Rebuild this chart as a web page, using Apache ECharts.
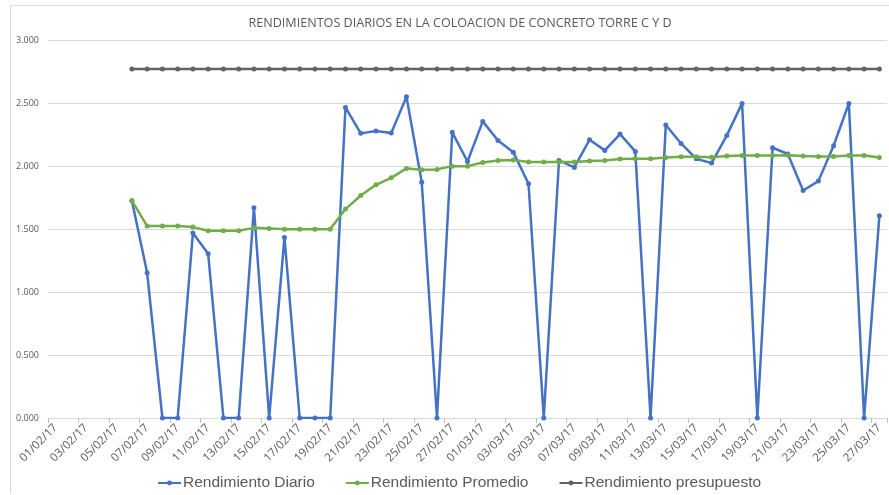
<!DOCTYPE html>
<html>
<head>
<meta charset="utf-8">
<script src="https://cdn.jsdelivr.net/npm/echarts@6/dist/echarts.min.js"></script>
<style>
html,body{margin:0;padding:0;background:#fff;}
#main{width:889px;height:495px;}
</style>
</head>
<body>
<div id="main"></div>
<script>
// days 01/02/17 .. 27/03/17
var fechas = [
 '01/02/17','02/02/17','03/02/17','04/02/17','05/02/17','06/02/17','07/02/17','08/02/17','09/02/17','10/02/17',
 '11/02/17','12/02/17','13/02/17','14/02/17','15/02/17','16/02/17','17/02/17','18/02/17','19/02/17','20/02/17',
 '21/02/17','22/02/17','23/02/17','24/02/17','25/02/17','26/02/17','27/02/17','28/02/17','01/03/17','02/03/17',
 '03/03/17','04/03/17','05/03/17','06/03/17','07/03/17','08/03/17','09/03/17','10/03/17','11/03/17','12/03/17',
 '13/03/17','14/03/17','15/03/17','16/03/17','17/03/17','18/03/17','19/03/17','20/03/17','21/03/17','22/03/17',
 '23/03/17','24/03/17','25/03/17','26/03/17','27/03/17'
];

var diario = [
 '-','-','-','-','-',1.725,1.152,0,0,1.469,
 1.303,0,0,1.668,0,1.433,0,0,0,2.465,
 2.259,2.277,2.261,2.550,1.872,0,2.267,2.036,2.354,2.203,
 2.110,1.859,0,2.044,1.989,2.208,2.124,2.253,2.116,0,
 2.325,2.179,2.057,2.023,2.243,2.497,0,2.145,2.095,1.806,
 1.880,2.161,2.497,0,1.605
];

var promedio = [
 '-','-','-','-','-',1.725,1.523,1.523,1.523,1.515,
 1.486,1.486,1.486,1.509,1.504,1.499,1.499,1.499,1.499,1.658,
 1.766,1.851,1.906,1.981,1.970,1.973,1.999,1.999,2.028,2.044,
 2.047,2.031,2.031,2.031,2.031,2.040,2.044,2.055,2.057,2.057,
 2.068,2.073,2.073,2.070,2.079,2.084,2.084,2.084,2.086,2.079,
 2.076,2.076,2.084,2.084,2.068
];

var presupuesto = [];
for (var i = 0; i < fechas.length; i++) {
    presupuesto.push(i < 5 ? '-' : 2.77);
}

var azul = '#4472C4';
var verde = '#70AD47';
var gris = '#636363';
var textoGris = '#595959';

var myChart = echarts.init(document.getElementById('main'));

function serie(nombre, datos, color) {
    return {
        name: nombre,
        type: 'line',
        data: datos,
        symbol: 'circle',
        symbolSize: 5,
        lineStyle: {color: color, width: 2.5},
        itemStyle: {color: color},
        emphasis: {disabled: true},
        animation: false
    };
}

var option = {
    backgroundColor: '#fff',
    animation: false,
    title: {
        text: 'RENDIMIENTOS DIARIOS EN LA COLOACION DE CONCRETO TORRE C Y D',
        left: 455,
        textAlign: 'center',
        top: 12,
        textStyle: {
            fontFamily: 'Open Sans',
            fontSize: 12.6,
            fontWeight: 'normal',
            color: textoGris
        }
    },
    graphic: [{
        type: 'polyline',
        shape: {points: [[10.5, 494], [10.5, 5.5], [889, 5.5]]},
        style: {stroke: '#d9d9d9', lineWidth: 1, fill: null},
        silent: true
    }],
    legend: {
        top: 470,
        left: 152,
        itemGap: 30,
        itemWidth: 23,
        itemHeight: 6,
        textStyle: {
            fontFamily: 'Liberation Sans',
            fontSize: 15.5,
            color: textoGris,
            padding: [0, 0, 0, -3]
        },
        data: ['Rendimiento Diario', 'Rendimiento Promedio', 'Rendimiento presupuesto']
    },
    grid: {
        left: 48,
        right: 2,
        top: 40,
        bottom: 77
    },
    xAxis: {
        type: 'category',
        data: fechas,
        boundaryGap: true,
        axisLine: {lineStyle: {color: '#d9d9d9', width: 1}},
        axisTick: {show: true, interval: 1, length: 5, lineStyle: {color: '#bfbfbf'}},
        axisLabel: {
            interval: 1,
            rotate: 45,
            margin: 8,
            fontFamily: 'Open Sans',
            fontSize: 11.5,
            color: textoGris
        },
        splitLine: {show: false}
    },
    yAxis: {
        type: 'value',
        min: 0,
        max: 3,
        interval: 0.5,
        axisLine: {show: false},
        axisTick: {show: false},
        axisLabel: {
            margin: 9,
            fontFamily: 'Open Sans',
            fontSize: 9,
            color: textoGris,
            formatter: function (v) { return v.toFixed(3); }
        },
        splitLine: {lineStyle: {color: '#d9d9d9', width: 1}}
    },
    series: [
        serie('Rendimiento Diario', diario, azul),
        serie('Rendimiento Promedio', promedio, verde),
        serie('Rendimiento presupuesto', presupuesto, gris)
    ]
};
myChart.setOption(option);
</script>
</body>
</html>
